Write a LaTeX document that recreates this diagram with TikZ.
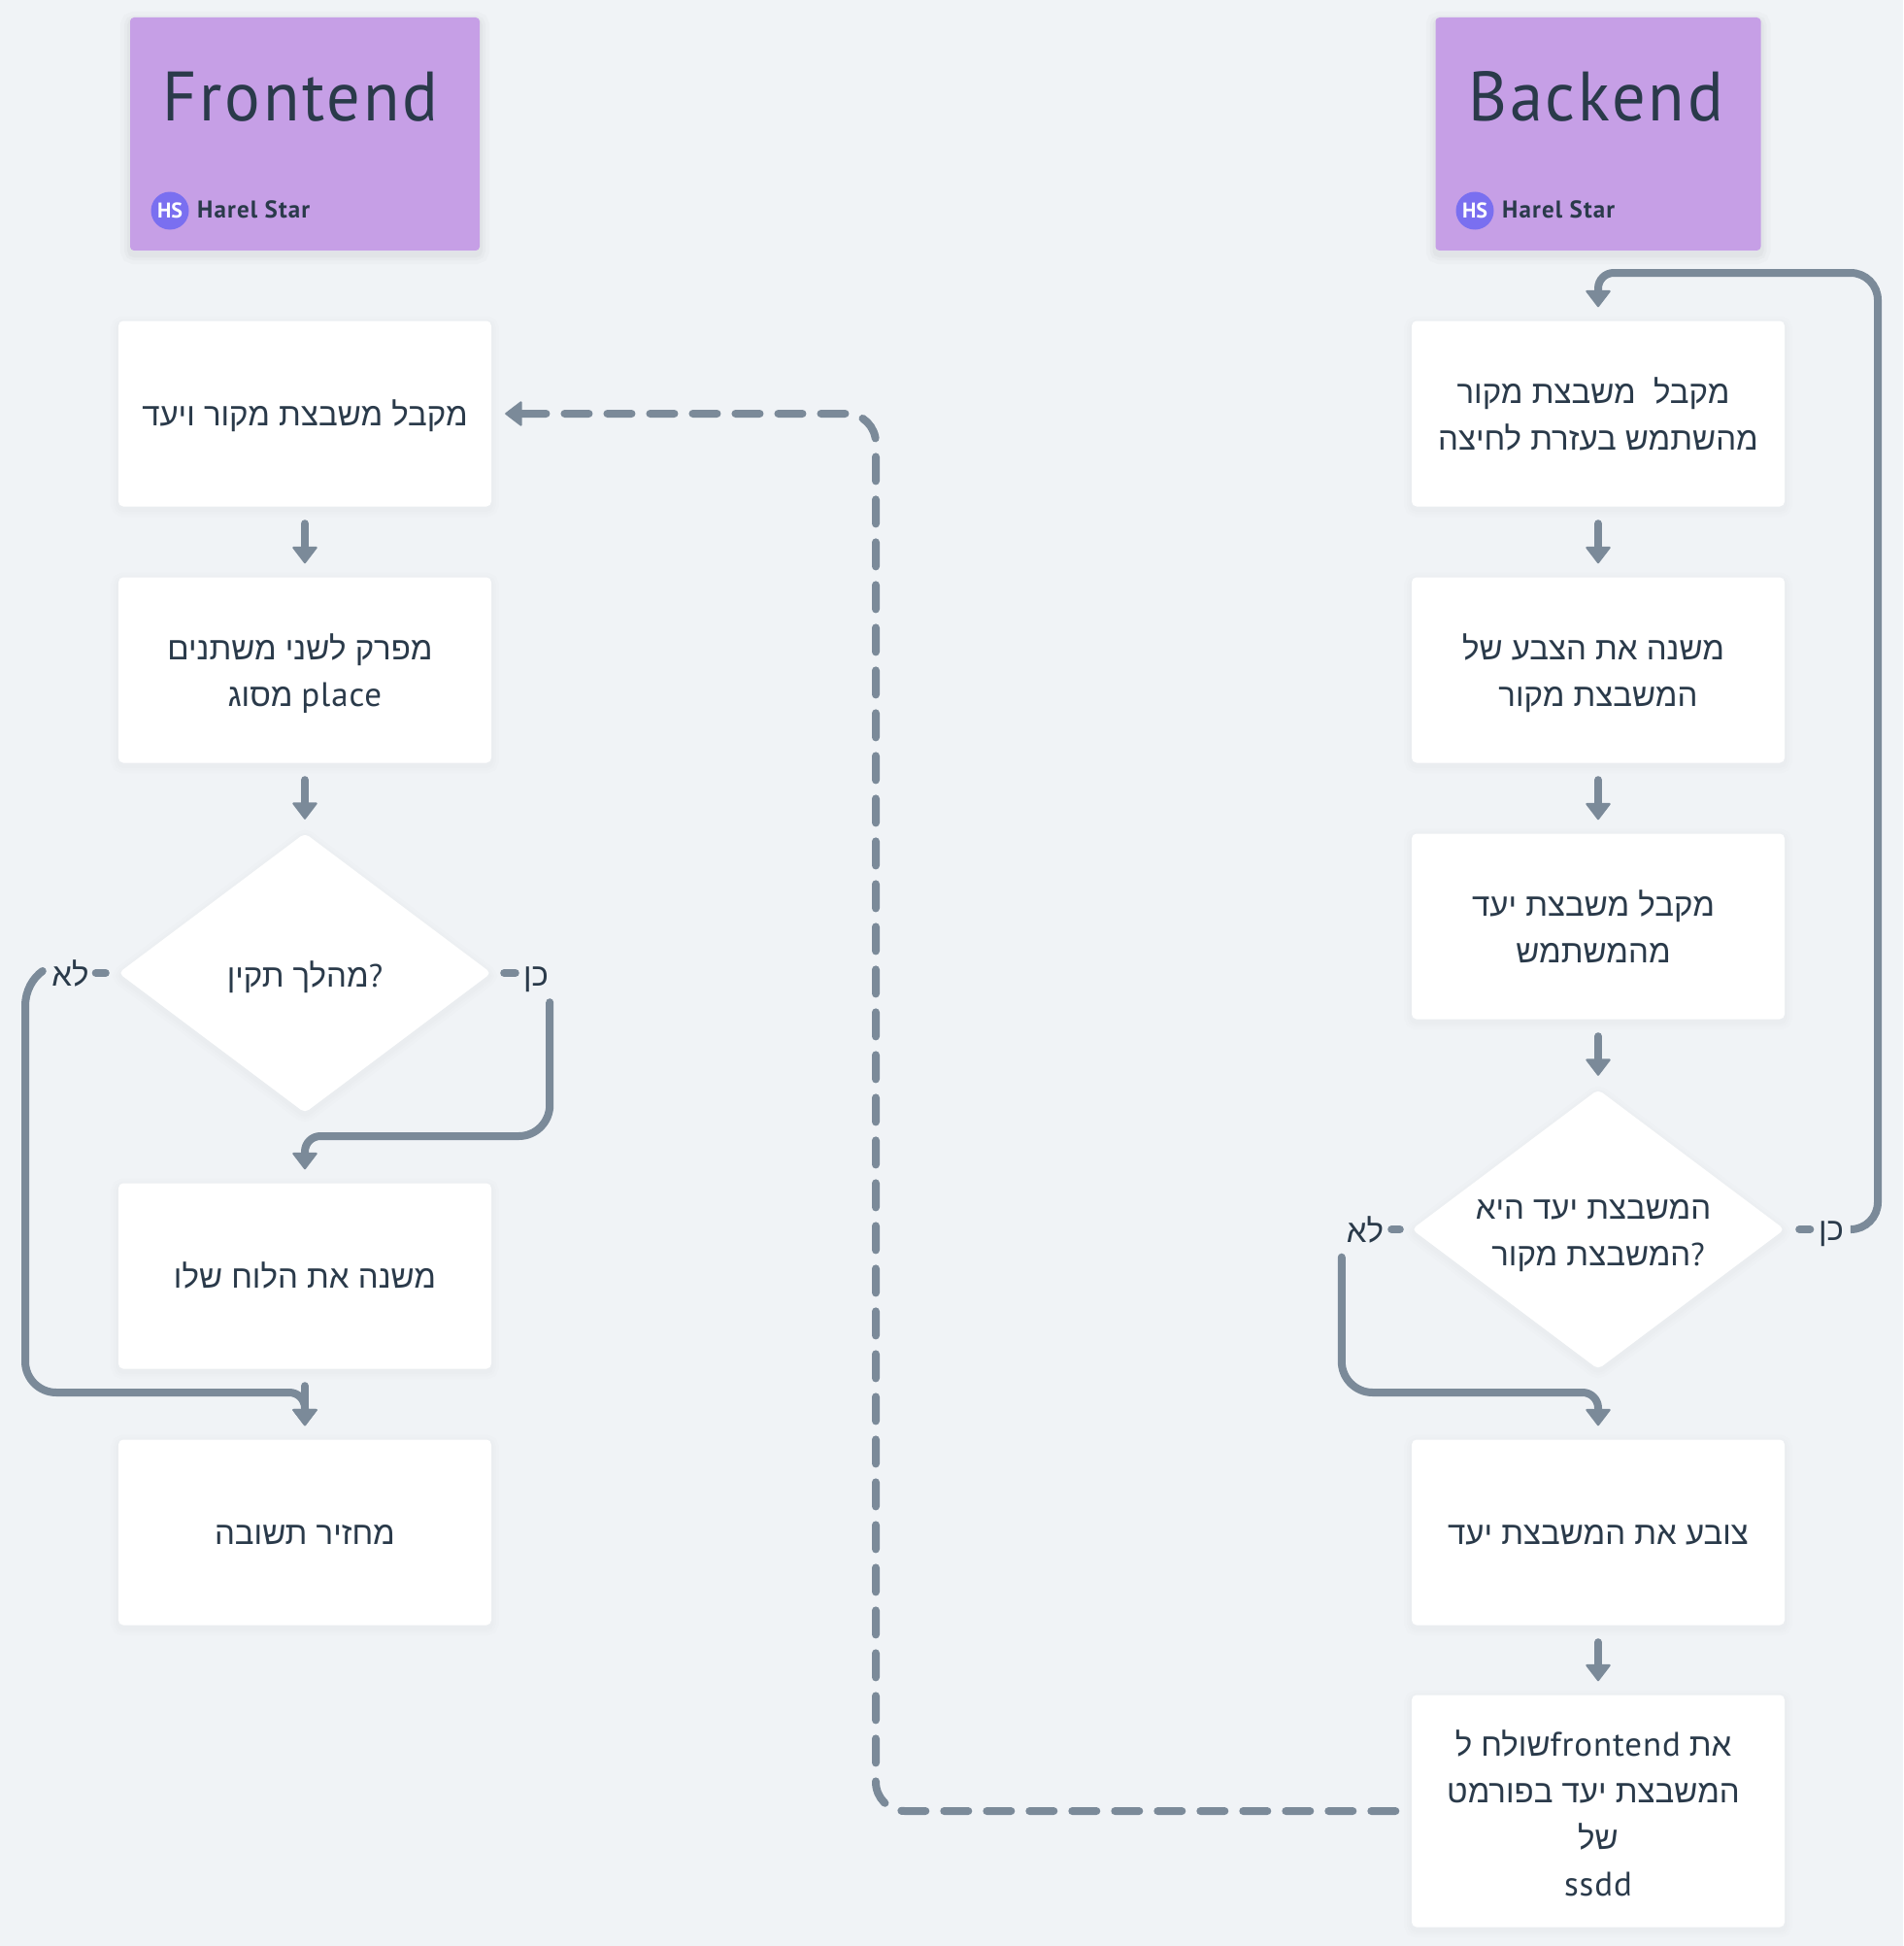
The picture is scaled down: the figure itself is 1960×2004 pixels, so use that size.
\documentclass[tikz,border=0pt]{standalone}
\usepackage{fontspec}
\setmainfont{PT Sans}
\newfontfamily\hebfont[Script=Hebrew]{Liberation Sans}
\newfontfamily\titlefont[LetterSpace=4,FakeStretch=0.95]{PT Sans}
\newfontfamily\namefont[LetterSpace=4.5]{PT Sans}
\newfontfamily\bodylatin[LetterSpace=2.5]{PT Sans}
\usetikzlibrary{shapes.geometric,arrows.meta,calc}
\TeXXeTstate=1
\newcommand{\hebr}[1]{\beginR{\hebfont #1}\endR}
\newcommand{\latn}[1]{{\bodylatin\fontsize{35}{48}\selectfont #1}}
\newcommand{\trail}{\kern10pt}
\newcommand{\oneline}[1]{\raisebox{-12.5pt}[0pt][0pt]{\hebr{#1}}}
\definecolor{bgc}{HTML}{F0F3F6}
\definecolor{linec}{HTML}{7B8A99}
\definecolor{textc}{HTML}{2A3A4A}
\definecolor{stickyc}{HTML}{C69FE6}
\definecolor{avatarc}{HTML}{7A6FF0}
\tikzset{
  softshadow/.style={
    preaction={draw=black,draw opacity=.006,fill=none,line width=16pt,transform canvas={yshift=-3pt}},
    preaction={draw=black,draw opacity=.007,fill=none,line width=10pt,transform canvas={yshift=-3pt}},
    preaction={draw=black,draw opacity=.008,fill=none,line width=5pt,transform canvas={yshift=-3pt}}},
  stickyshadow/.style={
    preaction={draw=black,draw opacity=.015,fill=none,line width=20pt,transform canvas={yshift=-4pt}},
    preaction={draw=black,draw opacity=.02,fill=none,line width=12pt,transform canvas={yshift=-4pt}},
    preaction={draw=black,draw opacity=.025,fill=none,line width=6pt,transform canvas={yshift=-4pt}}},
  flowbox/.style={rectangle,rounded corners=5pt,fill=white,softshadow,inner sep=0pt,minimum width=384pt,minimum height=191pt,
    align=center,text=textc,font=\fontsize{33}{48}\selectfont},
  tallbox/.style={flowbox,minimum height=239pt},
  choice/.style={diamond,rounded corners=5pt,fill=white,softshadow,inner sep=0pt,minimum width=384pt,minimum height=288pt},
  overtext/.style={inner sep=0pt,align=center,text=textc,font=\fontsize{33}{48}\selectfont},
  sticky/.style={rectangle,rounded corners=4pt,fill=stickyc,stickyshadow,inner sep=0pt,minimum height=240pt},
  edgelabel/.style={inner sep=0pt,text=textc,font=\fontsize{33}{36}\selectfont},
  titletext/.style={anchor=base west,inner sep=0pt,text=textc,font=\titlefont\fontsize{72}{80}\selectfont},
  nametext/.style={anchor=base west,inner sep=0pt,text=textc,font=\namefont\bfseries\fontsize{25}{28}\selectfont},
  avatar/.style={circle,fill=avatarc,text=white,inner sep=0pt,minimum size=39pt,font=\bfseries\fontsize{22}{24}\selectfont},
  conn/.style={draw=linec,line width=8pt,line cap=round},
  flow/.style={conn,-{Triangle[width=27pt,length=18pt,round,line width=2pt]}},
  arrowgap/.style={flow,shorten >=14pt,shorten <=17.5pt},
  stub/.style={conn}
}
\begin{document}
\begin{tikzpicture}[x=1pt,y=-1pt]
\useasboundingbox (0,0) rectangle (1960,2004);
\fill[bgc] (0,0) rectangle (1960,2004);

% stickies
\node[sticky,minimum width=360pt] (stF) at (314,138) {};
\node[sticky,minimum width=335pt] (stB) at (1646,138) {};
\node[titletext] (ttF) at (167,125) {Frontend};
\node[titletext] (ttB) at (1512,125) {Backend};
\node[avatar] (avF) at (175,217) {HS};
\node[avatar] (avB) at (1519,217) {HS};
\node[nametext] (nmF) at (203,225) {Harel Star};
\node[nametext] (nmB) at (1547,225) {Harel Star};

% left column
\node[flowbox] (L1) at (314,426) {\oneline{מקבל משבצת מקור ויעד}};
\node[flowbox,text depth=0pt] (L2) at (314,690) {\hebr{מפרק לשני משתנים}\trail\\\hebr{מסוג} \latn{place}};
\node[choice] (LD) at (314,1002) {};
\node[overtext] (LDt) at ([yshift=-4pt]LD.center) {\hebr{מהלך תקין}?};
\node[flowbox] (L4) at (314,1314) {\oneline{משנה את הלוח שלו}};
\node[flowbox] (L5) at (314,1578) {\oneline{מחזיר תשובה}};

% right column
\node[flowbox] (R1) at (1646,426) {\hebr{מקבל\ \ משבצת מקור}\trail\\\hebr{מהשתמש בעזרת לחיצה}};
\node[flowbox,text depth=0pt] (R2) at (1646,690) {\hebr{משנה את הצבע של}\trail\\\hebr{המשבצת מקור}};
\node[flowbox] (R3) at (1646,954) {\hebr{מקבל משבצת יעד}\trail\\\hebr{מהמשתמש}\trail};
\node[choice] (RD) at (1646,1266) {};
\node[overtext] (RDt) at ([yshift=-7pt]RD.center) {\hebr{המשבצת יעד היא}\trail\\\hebr{המשבצת מקור}?};
\node[flowbox] (R5) at (1646,1578) {\oneline{צובע את המשבצת יעד}};
\node[tallbox] (R6) at (1646,1865) {};
\node[overtext] (R6t) at ([yshift=-2.5pt]R6.center) {\hebr{שולח ל}\latn{frontend} \hebr{את}\trail\\\hebr{המשבצת יעד בפורמט}\trail\\\hebr{של}\\\latn{ssdd}};

% edge labels
\node[edgelabel,minimum width=28pt,minimum height=60pt] (yesL) at (552,1002) {\raisebox{-13pt}[0pt][0pt]{\hebr{כן}}};
\node[edgelabel,minimum width=51pt,minimum height=40pt] (noL) at (72.5,1002) {\hebr{לא}};
\node[edgelabel,minimum width=41pt,minimum height=40pt] (yesR) at (1886,1266) {\raisebox{-11pt}[0pt][0pt]{\hebr{כן}}};
\node[edgelabel,minimum width=48pt,minimum height=57pt] (noR) at (1406,1266) {\hebr{לא}};

% straight arrows
\draw[arrowgap] (L1) -- (L2);
\draw[arrowgap] (L2) -- (LD);
\draw[arrowgap] (L4) -- (L5);
\draw[arrowgap] (R1) -- (R2);
\draw[arrowgap] (R2) -- (R3);
\draw[arrowgap] (R3) -- (RD);
\draw[arrowgap] (R5) -- (R6);

% left decision
\draw[stub] ([xshift=13pt]LD.east) -- ([xshift=-7pt]yesL.west);
\draw[flow,shorten >=14pt,rounded corners=32pt] (yesL.south east) -- (yesL.east |- 0,1170) [rounded corners=16pt] -- (L4.north |- 0,1170) -- (L4.north);
\draw[stub] ([xshift=-13pt]LD.west) -- ([xshift=0.5pt]noL.east);
\draw[flow,shorten >=14pt] ([xshift=-3pt,yshift=2pt]noL.west) .. controls (34,1007) and (26,1020) .. (26,1036)
  [rounded corners=32pt] -- (26,1434) [rounded corners=16pt] -- (L5.north |- 0,1434) -- (L5.north);

% right decision
\draw[stub] ([xshift=15pt]RD.east) -- ([xshift=-1pt]yesR.west);
\draw[flow,shorten >=14pt,rounded corners=28pt] (yesR.east) -- (1934,1266) -- (1934,281) [rounded corners=16pt] -- (R1.north |- 0,281) -- (R1.north);
\draw[stub] ([xshift=-12pt]RD.west) -- ([xshift=3pt]noR.east);
\draw[flow,shorten >=14pt,rounded corners=32pt] (noR.south west) -- (noR.west |- 0,1434) [rounded corners=16pt] -- (R5.north |- 0,1434) -- (R5.north);

% dashed return
\draw[flow,dash pattern=on 25pt off 19pt,shorten >=14pt,shorten <=16.5pt,rounded corners=30pt] (R6.west) -- (902,1865) -- (902,426) -- (L1.east);
\end{tikzpicture}
\end{document}
